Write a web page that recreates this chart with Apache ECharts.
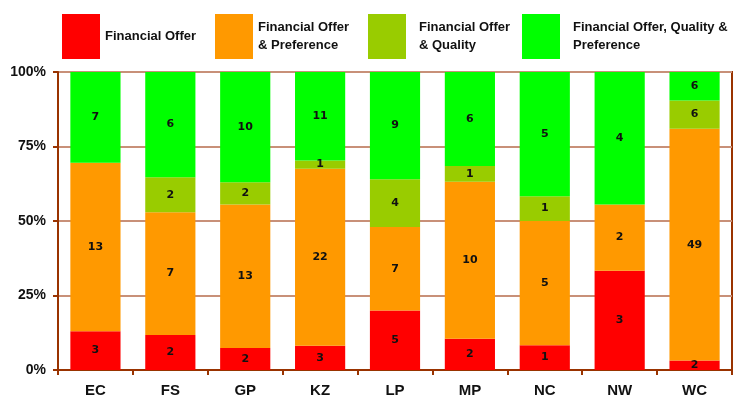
<!DOCTYPE html>
<html><head><meta charset="utf-8">
<script src="https://cdn.jsdelivr.net/npm/echarts@6/dist/echarts.min.js"></script>
<style>html,body{margin:0;padding:0;background:#fff}#c{width:736px;height:401px}</style>
</head><body><div id="c"></div>
<script>
var categories = ['EC','FS','GP','KZ','LP','MP','NC','NW','WC'];
var seriesNames = ['Financial Offer','Financial Offer & Preference','Financial Offer & Quality','Financial Offer, Quality & Preference'];
var legendLabels = ['Financial Offer','Financial Offer\n& Preference','Financial Offer\n& Quality','Financial Offer, Quality &\nPreference'];
var financialOffer = [3,2,2,3,5,2,1,3,2];
var offerPreference = [13,7,13,22,7,10,5,2,49];
var offerQuality = [0,2,2,1,4,1,1,0,6];
var offerQualityPreference = [7,6,10,11,9,6,5,4,6];
var yTicks = [0,25,50,75,100];
var colors = ['#ff0000','#ff9900','#99cc00','#00ff00'];

var counts = [financialOffer, offerPreference, offerQuality, offerQualityPreference];
var totals = categories.map(function(_, i){ return counts.reduce(function(s,a){return s+a[i];},0); });

var legendLeft = [62, 215, 368, 522];
var legendPad = [0, 0, 8, 8];
var legends = seriesNames.map(function(n, k){
  return {
    data: [n], left: legendLeft[k], top: 14, orient: 'horizontal', padding: 0,
    itemWidth: 38, itemHeight: 45, icon: 'rect', selectedMode: false,
    formatter: function(){ return legendLabels[k]; },
    textStyle: { fontFamily: 'Liberation Sans, Arial, sans-serif', fontWeight: 'bold', fontSize: 13, color: '#111', lineHeight: 18, padding: [0,0,0,legendPad[k]] }
  };
});

var series = seriesNames.map(function(n, k){
  return {
    name: n, type: 'bar', stack: 'all', barWidth: '67%',
    itemStyle: { color: colors[k] },
    data: counts[k].map(function(v, i){ return { value: v / totals[i] * 100, count: v }; }),
    label: {
      show: true, position: 'inside', color: '#111',
      fontFamily: 'DejaVu Sans, Verdana, sans-serif', fontWeight: 'bold', fontSize: 11,
      formatter: function(p){ return p.data.count ? String(p.data.count) : ''; }
    }
  };
});

var chart = echarts.init(document.getElementById('c'), null, {renderer: 'canvas'});
chart.setOption({
  animation: false,
  color: colors,
  legend: legends,
  grid: { left: 58, right: 4, top: 72, bottom: 31, show: true, borderColor: '#993300', borderWidth: 2, backgroundColor: 'transparent' },
  xAxis: {
    type: 'category', data: categories,
    axisLine: { lineStyle: { color: '#993300', width: 2 } },
    axisTick: { show: true, length: 5, lineStyle: { color: '#993300', width: 2 } },
    axisLabel: { margin: 13, color: '#111', fontFamily: 'Liberation Sans, Arial, sans-serif', fontWeight: 'bold', fontSize: 15 }
  },
  yAxis: {
    type: 'value', min: yTicks[0], max: yTicks[yTicks.length-1], interval: 25,
    axisLine: { show: true, lineStyle: { color: '#993300', width: 2 } },
    axisTick: { show: true, length: 5, lineStyle: { color: '#993300', width: 2 } },
    splitLine: { lineStyle: { color: '#c89078', width: 2 } },
    axisLabel: { margin: 12, color: '#111', fontFamily: 'Liberation Sans, Arial, sans-serif', fontWeight: 'bold', fontSize: 14, formatter: '{value}%' }
  },
  series: series
});
</script></body></html>
